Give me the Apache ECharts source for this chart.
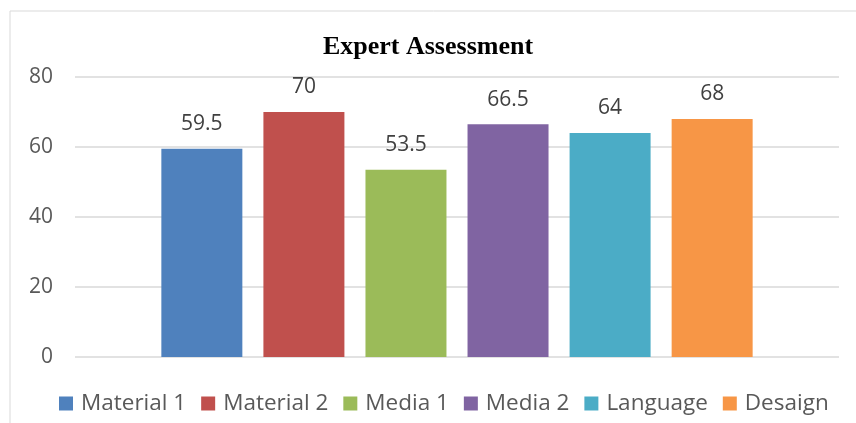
<!DOCTYPE html>
<html>
<head>
<meta charset="utf-8">
<script src="https://cdn.jsdelivr.net/npm/echarts@6/dist/echarts.min.js"></script>
<style>
  html, body { margin: 0; padding: 0; background: #fff; }
  #chart { width: 856px; height: 423px; }
</style>
</head>
<body>
<div id="chart"></div>
<script>
const names = ['Material 1', 'Material 2', 'Media 1', 'Media 2', 'Language', 'Desaign']
const values = [59.5, 70, 53.5, 66.5, 64, 68]
const colors = ['#4F81BD', '#C0504D', '#9BBB59', '#8064A2', '#4BACC6', '#F79646']
const yTicks = [0, 20, 40, 60, 80]

const myChart = echarts.init(document.getElementById('chart'))

const series = names.map((name, i) => ({
  name: name,
  type: 'bar',
  barWidth: 81,
  barGap: '26%',
  itemStyle: { color: colors[i] },
  label: {
    show: true,
    position: 'top',
    distance: 14,
    color: '#404040',
    fontSize: 21,
    fontFamily: 'Open Sans'
  },
  data: [values[i]]
}))

const option = {
  backgroundColor: '#fff',
  animation: false,
  // 外框
  graphic: [{
    type: 'rect',
    shape: { x: 10, y: 11, width: 900, height: 500 },
    style: { fill: 'none', stroke: '#d9d9d9', lineWidth: 1 }
  }],
  title: {
    text: 'Expert Assessment',
    left: 'center',
    top: 29,
    textStyle: {
      fontFamily: 'Liberation Serif',
      fontWeight: 'bold',
      fontSize: 26,
      color: '#000'
    }
  },
  legend: {
    left: 54,
    top: 387,
    itemWidth: 14,
    itemHeight: 14,
    itemGap: 15,
    icon: 'rect',
    data: names,
    textStyle: {
      color: '#595959',
      fontSize: 22.5,
      fontFamily: 'Open Sans',
      padding: [0, 0, 0, 3]
    }
  },
  grid: {
    left: 75,
    right: 17,
    top: 77,
    bottom: 66
  },
  xAxis: {
    type: 'category',
    data: [''],
    axisLine: { show: false },
    axisTick: { show: false },
    axisLabel: { show: false }
  },
  yAxis: {
    type: 'value',
    min: yTicks[0],
    max: yTicks[yTicks.length - 1],
    interval: 20,
    axisLine: { show: false },
    axisTick: { show: false },
    axisLabel: {
      color: '#595959',
      fontSize: 21,
      fontFamily: 'Open Sans',
      margin: 22
    },
    splitLine: { lineStyle: { color: '#d9d9d9', width: 1.5 } }
  },
  series: series
}

myChart.setOption(option)
</script>
</body>
</html>
